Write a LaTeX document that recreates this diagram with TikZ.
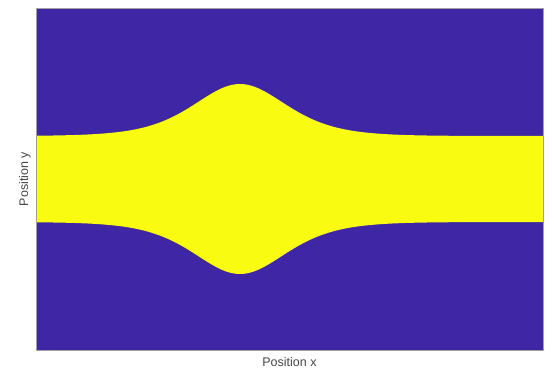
\documentclass[tikz,border=0pt]{standalone}
\usepackage{fontspec}
\setmainfont{Liberation Sans}
\definecolor{pblue}{RGB}{62,38,165}
\definecolor{pyellow}{RGB}{249,251,16}
\definecolor{labgray}{RGB}{70,70,70}
\definecolor{framegray}{RGB}{160,160,160}
\begin{document}
\begin{tikzpicture}[x=1pt,y=1pt,
  axlabel/.style={text=labgray,font=\fontsize{12.5}{14}\selectfont,inner sep=0pt}]
\useasboundingbox (0,0) rectangle (554,370);
\fill[pblue] (36,20) rectangle (543,362);
\fill[pyellow] plot[domain=36:543,samples=250,smooth] (\x,{234+52/(cosh((\x-240)/62)^2)})
  -- plot[domain=543:36,samples=250,smooth] (\x,{148-52/(cosh((\x-240)/62)^2)}) -- cycle;
\draw[framegray,line width=0.6pt] (36,20) rectangle (543,362);
\node[axlabel] (xl) at (289.5,8) {Position x};
\node[axlabel,rotate=90] (yl) at (25,191) {Position y};
\end{tikzpicture}
\end{document}
